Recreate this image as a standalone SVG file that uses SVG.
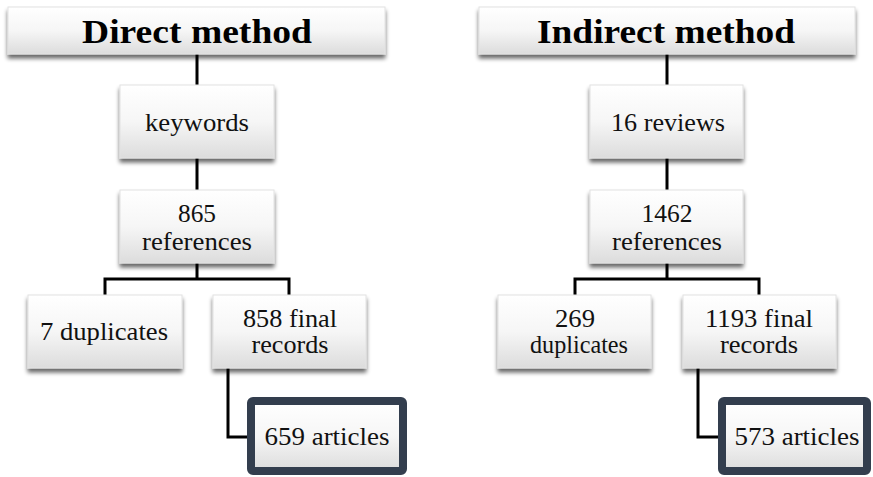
<svg xmlns="http://www.w3.org/2000/svg" width="873" height="477" viewBox="0 0 873 477">
<defs>
<linearGradient id="g" x1="0" y1="0" x2="0" y2="1">
<stop offset="0" stop-color="#ffffff"/>
<stop offset="0.5" stop-color="#f6f6f6"/>
<stop offset="1" stop-color="#dcdcdc"/>
</linearGradient>
<filter id="sh" x="-10%" y="-10%" width="120%" height="140%">
<feGaussianBlur in="SourceAlpha" stdDeviation="2"/>
<feOffset dx="0" dy="4" result="b"/>
<feComponentTransfer><feFuncA type="linear" slope="0.6"/></feComponentTransfer>
<feMerge><feMergeNode/><feMergeNode in="SourceGraphic"/></feMerge>
</filter>
</defs>
<style>
.box{fill:url(#g);stroke:#e2e2e2;stroke-width:1;filter:url(#sh)}
.hl{fill:url(#g);stroke:#333e4e;stroke-width:8}
.t{font-family:"Liberation Serif","Times New Roman",serif;font-size:25px;fill:#111;text-anchor:middle}
.h{font-family:"Liberation Serif","Times New Roman",serif;font-size:33px;font-weight:bold;fill:#000;text-anchor:middle}
.c{fill:none;stroke:#000;stroke-width:3}
</style>
<rect width="873" height="477" fill="#ffffff"/>
<g id="connectors">
<path class="c" d="M197 54V85M197 158V190M197 263V279M105 295V279H289V295M228 368V437H249"/>
<path class="c" d="M667 54V85M667 158V190M667 263V279M575 295V279H759V295M698 368V437H720"/>
</g>
<g id="direct">
<rect class="box" x="8" y="7" width="377" height="47"/>
<text class="h" x="197" y="43" textLength="230" lengthAdjust="spacingAndGlyphs">Direct method</text>
</g>
<g id="keywords">
<rect class="box" x="120" y="85" width="154" height="73"/>
<text class="t" x="197" y="131" textLength="104" lengthAdjust="spacingAndGlyphs">keywords</text>
</g>
<g id="refs865">
<rect class="box" x="120" y="190" width="154" height="73"/>
<text class="t" x="197" y="222" textLength="38" lengthAdjust="spacingAndGlyphs">865</text>
<text class="t" x="197" y="250" textLength="110" lengthAdjust="spacingAndGlyphs">references</text>
</g>
<g id="dup7">
<rect class="box" x="28" y="295" width="154" height="73"/>
<text class="t" x="104" y="340" textLength="128" lengthAdjust="spacingAndGlyphs">7 duplicates</text>
</g>
<g id="final858">
<rect class="box" x="213" y="295" width="153" height="73"/>
<text class="t" x="290" y="327" textLength="94" lengthAdjust="spacingAndGlyphs">858 final</text>
<text class="t" x="290" y="353" textLength="77" lengthAdjust="spacingAndGlyphs">records</text>
</g>
<g id="articles659">
<rect class="hl" x="251" y="401" width="152" height="70" rx="2"/>
<text class="t" x="327" y="445" textLength="125" lengthAdjust="spacingAndGlyphs">659 articles</text>
</g>
<g id="indirect">
<rect class="box" x="479" y="7" width="376" height="47"/>
<text class="h" x="666" y="43" textLength="258" lengthAdjust="spacingAndGlyphs">Indirect method</text>
</g>
<g id="reviews">
<rect class="box" x="590" y="85" width="153" height="73"/>
<text class="t" x="668" y="131" textLength="114" lengthAdjust="spacingAndGlyphs">16 reviews</text>
</g>
<g id="refs1462">
<rect class="box" x="590" y="190" width="153" height="73"/>
<text class="t" x="667" y="222" textLength="51" lengthAdjust="spacingAndGlyphs">1462</text>
<text class="t" x="667" y="250" textLength="110" lengthAdjust="spacingAndGlyphs">references</text>
</g>
<g id="dup269">
<rect class="box" x="498" y="295" width="153" height="73"/>
<text class="t" x="575" y="327" textLength="40" lengthAdjust="spacingAndGlyphs">269</text>
<text class="t" x="579" y="353" textLength="98" lengthAdjust="spacingAndGlyphs">duplicates</text>
</g>
<g id="final1193">
<rect class="box" x="683" y="295" width="153" height="73"/>
<text class="t" x="759" y="327" textLength="108" lengthAdjust="spacingAndGlyphs">1193 final</text>
<text class="t" x="759" y="353" textLength="78" lengthAdjust="spacingAndGlyphs">records</text>
</g>
<g id="articles573">
<rect class="hl" x="722" y="401" width="145" height="70" rx="2"/>
<text class="t" x="797" y="445" textLength="125" lengthAdjust="spacingAndGlyphs">573 articles</text>
</g>
</svg>
